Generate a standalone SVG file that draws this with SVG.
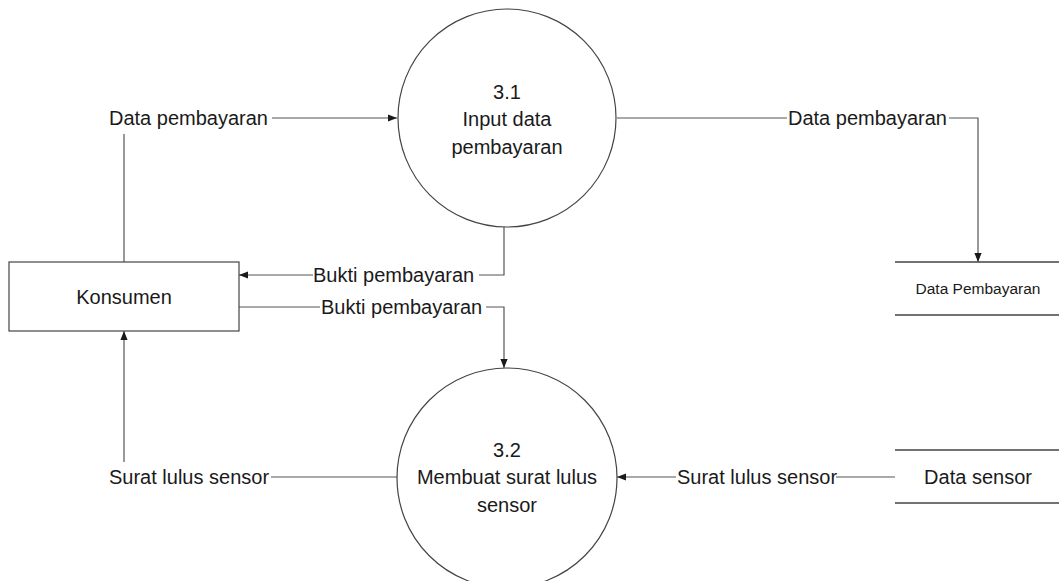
<svg xmlns="http://www.w3.org/2000/svg" width="1059" height="581" viewBox="0 0 1059 581">
<style>
text{font-family:"Liberation Sans",Arial,sans-serif;font-size:20px;fill:#1a1a1a}
.small{font-size:15.5px}
.shape{fill:#fff;stroke:#444;stroke-width:1.2}
.store{stroke:#444;stroke-width:1.3;fill:none}
.flow{fill:none;stroke:#555;stroke-width:1.2}
</style>
<defs>
<marker id="arr" viewBox="0 0 10 10" refX="10" refY="5" markerWidth="9" markerHeight="9" markerUnits="userSpaceOnUse" orient="auto">
<path d="M0,1 L10,5 L0,9 Z" fill="#1a1a1a"/>
</marker>
</defs>
<rect width="1059" height="581" fill="#fff"/>
<g id="connectors">
<path class="flow" d="M124,262 V134"/>
<path class="flow" d="M272,118 H397" marker-end="url(#arr)"/>
<path class="flow" d="M617,118 H787"/>
<path class="flow" d="M949,118 H978 V262" marker-end="url(#arr)"/>
<path class="flow" d="M504,227 V275 H479"/>
<path class="flow" d="M313,275 H239" marker-end="url(#arr)"/>
<path class="flow" d="M239,307 H320"/>
<path class="flow" d="M486,307 H504 V368" marker-end="url(#arr)"/>
<path class="flow" d="M397,477 H271"/>
<path class="flow" d="M124,462 V331" marker-end="url(#arr)"/>
<path class="flow" d="M895,477 H836"/>
<path class="flow" d="M676,477 H617" marker-end="url(#arr)"/>
<text x="109" y="125">Data pembayaran</text>
<text x="788" y="125">Data pembayaran</text>
<text x="313" y="282">Bukti pembayaran</text>
<text x="321" y="314">Bukti pembayaran</text>
<text x="109" y="484">Surat lulus sensor</text>
<text x="677" y="484">Surat lulus sensor</text>
</g>
<g id="p31">
<circle class="shape" cx="507" cy="118" r="109"/>
<text x="507" y="99" text-anchor="middle">3.1</text>
<text x="507" y="126" text-anchor="middle">Input data</text>
<text x="507" y="154" text-anchor="middle">pembayaran</text>
</g>
<g id="p32">
<circle class="shape" cx="507" cy="478" r="110"/>
<text x="507" y="457" text-anchor="middle">3.2</text>
<text x="507" y="484" text-anchor="middle">Membuat surat lulus</text>
<text x="507" y="512" text-anchor="middle">sensor</text>
</g>
<g id="konsumen">
<rect class="shape" x="9" y="262" width="230" height="69"/>
<text x="124" y="304" text-anchor="middle">Konsumen</text>
</g>
<g id="ds-pembayaran">
<path class="store" d="M895,262 H1059 M895,315 H1059"/>
<text class="small" x="978" y="294" text-anchor="middle">Data Pembayaran</text>
</g>
<g id="ds-sensor">
<path class="store" d="M895,450 H1059 M895,503 H1059"/>
<text x="978" y="484" text-anchor="middle">Data sensor</text>
</g>
</svg>
